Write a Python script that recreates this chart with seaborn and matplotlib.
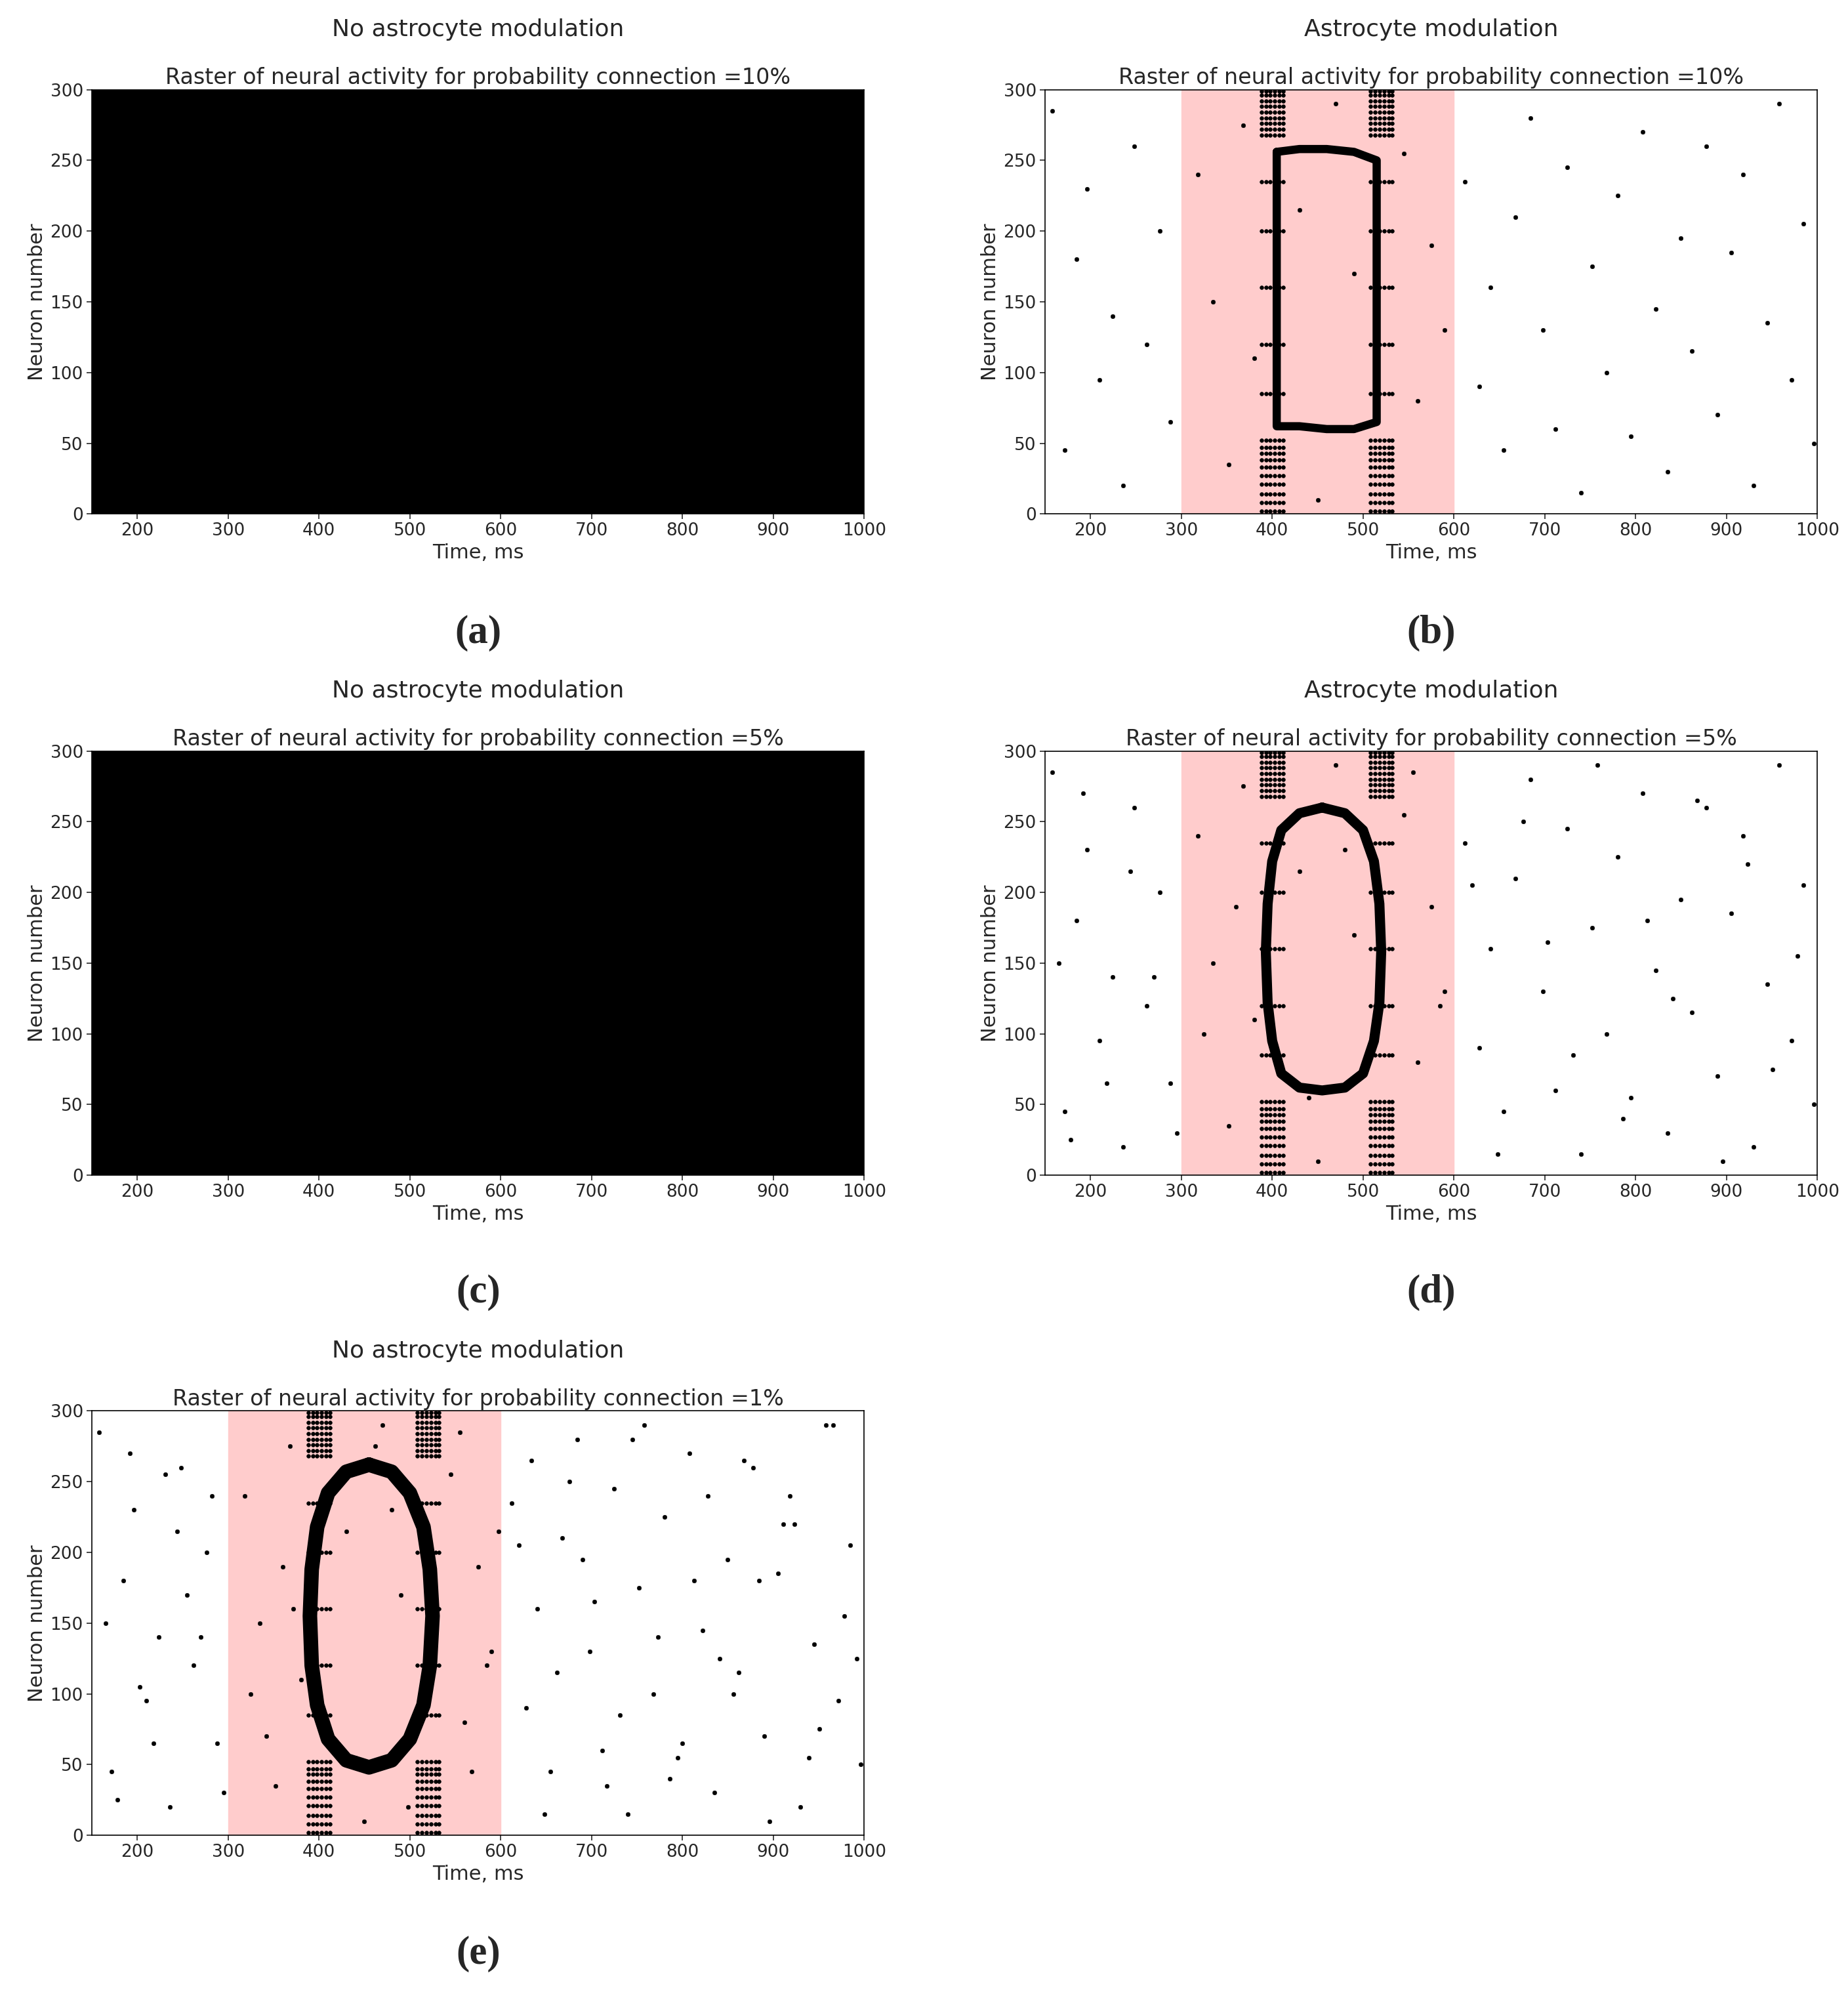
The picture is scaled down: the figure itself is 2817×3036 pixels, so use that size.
import matplotlib
matplotlib.use("Agg")
import matplotlib.pyplot as plt
import seaborn as sns
import pandas as pd

sns.set_style("white")
plt.rcParams['font.family'] = ['DejaVu Sans']

# ---- data ----
titles = ["No astrocyte modulation", "Astrocyte modulation"]
probs = ["10%", "5%", "1%"]
letters = ["(a)", "(b)", "(c)", "(d)", "(e)"]
stim_window = [300, 600]
x_ticks = [200, 300, 400, 500, 600, 700, 800, 900, 1000]
y_ticks = [0, 50, 100, 150, 200, 250, 300]

bg_t = [158, 172, 185, 196, 210, 224, 236, 248, 262, 276, 288, 318, 335, 352, 368, 380, 430, 450, 470, 490, 545, 560, 575, 590,
        612, 628, 640, 655, 668, 684, 698, 712, 725, 740, 752, 768, 780, 795, 808, 822, 835, 850, 862, 878, 890, 905, 918, 930, 945, 958, 972, 985, 996,
        165, 192, 218, 244, 270, 295, 325, 360, 440, 480, 555, 585, 620, 648, 676, 703, 731, 758, 786, 813, 841, 868, 896, 923, 951, 978,
        178, 203, 231, 255, 282, 342, 372, 462, 498, 568, 598, 634, 662, 690, 717, 745, 773, 800, 828, 856, 884, 911, 939, 966, 992]
bg_n = [285, 45, 180, 230, 95, 140, 20, 260, 120, 200, 65, 240, 150, 35, 275, 110, 215, 10, 290, 170, 255, 80, 190, 130,
        235, 90, 160, 45, 210, 280, 130, 60, 245, 15, 175, 100, 225, 55, 270, 145, 30, 195, 115, 260, 70, 185, 240, 20, 135, 290, 95, 205, 50,
        150, 270, 65, 215, 140, 30, 100, 190, 55, 230, 285, 120, 205, 15, 250, 165, 85, 290, 40, 180, 125, 265, 10, 220, 75, 155,
        25, 105, 255, 170, 240, 70, 160, 275, 20, 45, 215, 265, 115, 195, 35, 280, 140, 65, 240, 100, 180, 220, 55, 290, 125]

band_t = [388, 393, 398, 403, 408, 412, 508, 513, 518, 523, 528, 532]
band_n = [2, 8, 14, 21, 27, 33, 38, 43, 47, 52, 85, 120, 160, 200, 235, 268, 272, 276, 280, 284, 288, 292, 296, 299]

ring_t_e = [455, 480, 500, 515, 522, 525, 522, 515, 500, 480, 455, 430, 410, 398, 392, 390, 392, 398, 410, 430, 455]
ring_n_e = [262, 257, 242, 218, 188, 155, 120, 92, 68, 53, 48, 53, 68, 92, 120, 155, 188, 218, 242, 257, 262]
ring_t_d = [455, 480, 500, 512, 518, 520, 518, 512, 500, 480, 455, 430, 410, 400, 395, 393, 395, 400, 410, 430, 455]
ring_n_d = [260, 256, 244, 222, 192, 158, 122, 95, 72, 62, 60, 62, 72, 95, 122, 158, 192, 222, 244, 256, 260]
ring_t_b = [405, 430, 460, 490, 515, 515, 515, 515, 490, 460, 430, 405, 405, 405, 405]
ring_n_b = [256, 258, 258, 256, 250, 180, 110, 65, 60, 60, 62, 62, 140, 210, 256]

fig = plt.figure(figsize=(28.17, 30.36), dpi=100)
lefts = [0.0497, 0.5655]
bottoms = [0.742, 0.410, 0.0787]
W, H = 0.4179, 0.213
fs = 19

def base(ax, title, sub):
    ax.set_xlim(150, 1000); ax.set_ylim(0, 300)
    ax.set_xticks(x_ticks); ax.set_yticks(y_ticks)
    ax.tick_params(labelsize=fs, length=6, width=1.2, direction='out', left=True, bottom=True)
    ax.set_xlabel("Time, ms", fontsize=fs + 3); ax.set_ylabel("Neuron number", fontsize=fs + 3)
    ax.set_title(sub, fontsize=fs + 5, pad=6)
    ax.text(0.5, 1.115, title, transform=ax.transAxes, ha='center', va='bottom', fontsize=fs + 7)
    for s in ax.spines.values():
        s.set_color('black'); s.set_linewidth(1.2)

def raster(ax, nbg, ring_t, ring_n, lw):
    ax.axvspan(stim_window[0], stim_window[1], color='#ffcccc', zorder=0)
    df = pd.DataFrame({'t': bg_t[:nbg], 'n': bg_n[:nbg]})
    sns.scatterplot(data=df, x='t', y='n', ax=ax, color='black', s=22, edgecolor=None, zorder=3)
    bt = [t for t in band_t for _ in band_n]
    bn = [n for _ in band_t for n in band_n]
    sns.scatterplot(x=bt, y=bn, ax=ax, color='black', s=18, edgecolor=None, zorder=3)
    rd = pd.DataFrame({'t': ring_t, 'n': ring_n})
    sns.lineplot(data=rd, x='t', y='n', sort=False, ax=ax, color='black', lw=lw, zorder=4, estimator=None)

for r in range(3):
    axl = fig.add_axes([lefts[0], bottoms[r], W, H])
    if r < 2:
        axl.set_facecolor('black')
    else:
        raster(axl, len(bg_t), ring_t_e, ring_n_e, 16)
    base(axl, titles[0], f"Raster of neural activity for probability connection ={probs[r]}")
    if r < 2:
        axr = fig.add_axes([lefts[1], bottoms[r], W, H])
        if r == 0:
            raster(axr, 53, ring_t_b, ring_n_b, 9)
        else:
            raster(axr, 80, ring_t_d, ring_n_d, 11)
        base(axr, titles[1], f"Raster of neural activity for probability connection ={probs[r]}")

label_pos = [(0.2587, 0.682), (0.7745, 0.682), (0.2587, 0.351), (0.7745, 0.351), (0.2587, 0.019)]
for (x, y), l in zip(label_pos, letters):
    fig.text(x, y, l, ha='center', va='center', fontsize=44, fontweight='bold', family='Liberation Serif')

fig.savefig("out.png", dpi=100)
